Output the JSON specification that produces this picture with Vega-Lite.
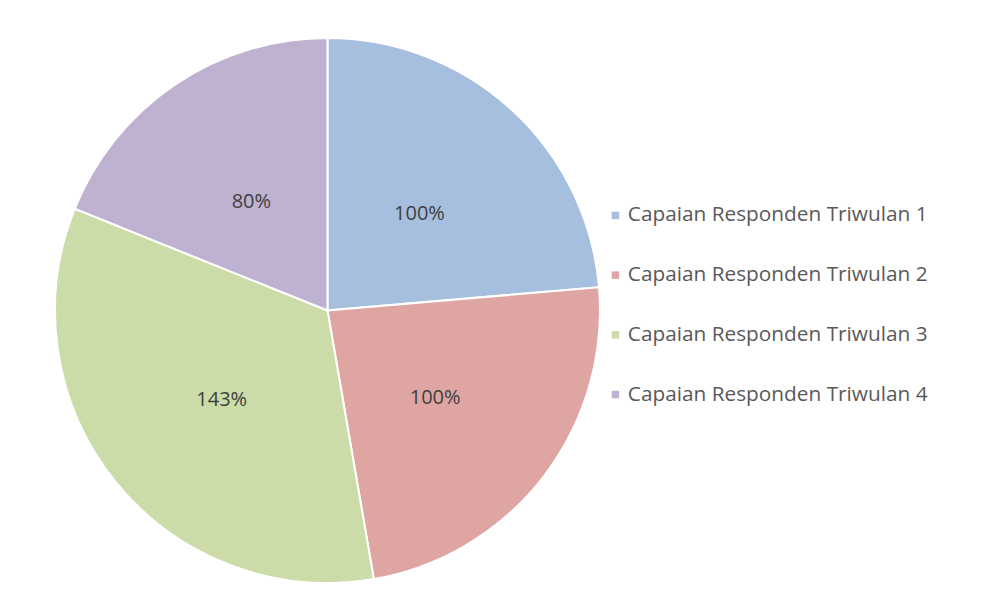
{
  "$schema": "https://vega.github.io/schema/vega-lite/v6.json",
  "width": 545,
  "height": 545,
  "autosize": {"type": "none"},
  "padding": {"left": 55, "top": 38, "right": 400, "bottom": 31},
  "background": "white",
  "config": {"view": {"stroke": null}},
  "data": {
    "values": [
      {"kategori": "Capaian Responden Triwulan 1", "nilai": 100, "label": "100%", "urut": 1},
      {"kategori": "Capaian Responden Triwulan 2", "nilai": 100, "label": "100%", "urut": 2},
      {"kategori": "Capaian Responden Triwulan 3", "nilai": 143, "label": "143%", "urut": 3},
      {"kategori": "Capaian Responden Triwulan 4", "nilai": 80, "label": "80%", "urut": 4}
    ]
  },
  "encoding": {
    "theta": {"field": "nilai", "type": "quantitative", "stack": true},
    "order": {"field": "urut", "type": "quantitative"}
  },
  "layer": [
    {
      "mark": {"type": "arc", "stroke": "white", "strokeWidth": 2},
      "encoding": {
        "color": {
          "field": "kategori",
          "type": "nominal",
          "scale": {
            "domain": ["Capaian Responden Triwulan 1", "Capaian Responden Triwulan 2", "Capaian Responden Triwulan 3", "Capaian Responden Triwulan 4"],
            "range": ["#a6bfdf", "#dea5a3", "#cbdca8", "#bfb1d0"]
          },
          "legend": {
            "title": null,
            "orient": "none",
            "legendX": 550,
            "legendY": 167,
            "symbolType": "square",
            "symbolSize": 56,
            "symbolStrokeWidth": 0,
            "labelFont": "Open Sans",
            "labelFontSize": 20.8,
            "labelColor": "#595959",
            "labelOffset": 2,
            "rowPadding": 37.7,
            "labelLimit": 400
          }
        }
      }
    },
    {
      "mark": {"type": "text", "radius": 136, "dy": 4, "font": "Open Sans", "fontSize": 20, "fill": "#404040"},
      "encoding": {
        "text": {"field": "label", "type": "nominal"}
      }
    }
  ]
}
